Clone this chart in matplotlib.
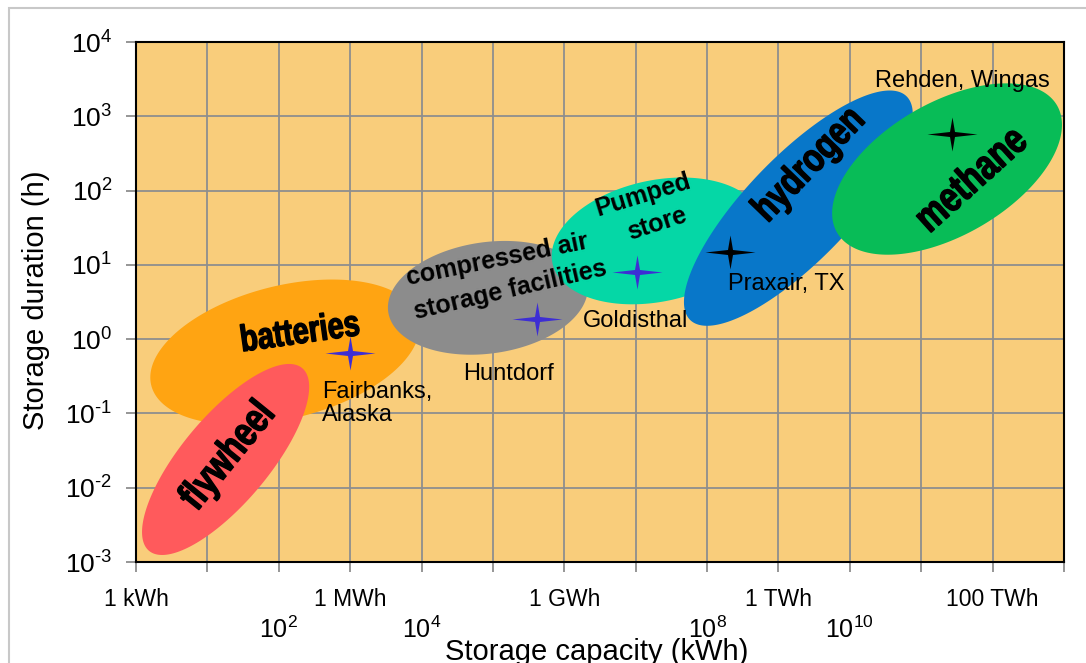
import numpy as np
import matplotlib
matplotlib.use("Agg")
import matplotlib.pyplot as plt
import matplotlib.transforms as mtransforms
from matplotlib.path import Path
from matplotlib.patches import Rectangle, PathPatch
from matplotlib.textpath import TextPath
from matplotlib.font_manager import FontProperties
from matplotlib.ticker import NullLocator

plt.rcParams['font.family'] = ['Liberation Sans', 'DejaVu Sans']
plt.rcParams['mathtext.fontset'] = 'custom'
plt.rcParams['mathtext.rm'] = 'Liberation Sans'
plt.rcParams['mathtext.default'] = 'regular'

# technology regions: centre (kWh, h), semi-axes in decades, tilt
tech_names = ["batteries", "flywheel", "compressed air", "pumped store", "hydrogen", "methane"]
tech_cx_kwh = [122, 18, 8.5e4, 2.0e7, 1.9e9, 2.3e11]
tech_cy_h = [0.67, 0.024, 3.6, 21, 58, 195]
tech_major_dec = [1.93, 1.67, 1.41, 1.50, 2.18, 1.78]
tech_minor_dec = [0.93, 0.61, 0.78, 0.85, 0.73, 0.93]
tech_angle = [14, 50, 8, 12, 46, 30]
tech_colors = ['#FFA412', '#FF5A5C', '#8C8C8C', '#05D7A6', '#0877C9', '#08BC57']

# condensed labels inside the regions
narrow_text = ["batteries", "flywheel", "hydrogen", "methane"]
narrow_x = [198, 19.4, 2.75e9, 4.8e11]
narrow_y = [1.33, 0.0259, 220, 151]
narrow_rot = [8, 51, 46, 42]
narrow_size = [37, 41, 40, 42]

# plain bold labels inside the regions
bold_text = ["compressed air", "storage facilities", "Pumped", "store"]
bold_x = [1.14e5, 1.73e5, 1.26e7, 2.0e7]
bold_y = [11.6, 4.58, 87, 35.4]
bold_rot = [11.5, 13, 17, 18]

# example plants
site_names = ["Fairbanks,\nAlaska", "Huntdorf", "Goldisthal", "Praxair, TX", "Rehden, Wingas"]
site_x_kwh = [1.0e3, 4.1e5, 1.04e7, 2.1e8, 2.7e11]
site_y_h = [0.65, 1.86, 8.0, 14.9, 575]
site_colors = ['#3D2ED4', '#3D2ED4', '#3D2ED4', 'black', 'black']
site_label_x = [403, 3.8e4, 1.82e6, 1.95e8, 2.24e10]
site_label_y = [0.273, 0.339, 1.75, 5.52, 2980]

cap_ticks = [1, 1e3, 1e6, 1e9, 1e12]
cap_tick_labels = ["1 kWh", "1 MWh", "1 GWh", "1 TWh", "100 TWh"]
pow_ticks = [1e2, 1e4, 1e8, 1e10]
pow_tick_labels = [r"$10^2$", r"$10^4$", r"$10^8$", r"$10^{10}$"]
dur_ticks = [1e-3, 1e-2, 1e-1, 1e0, 1e1, 1e2, 1e3, 1e4]
dur_tick_labels = ["$10^{\u20103}$", "$10^{\u20102}$", "$10^{\u20101}$", "$10^0$",
                   "$10^1$", "$10^2$", "$10^3$", "$10^4$"]

W, H = 1086, 663
fig = plt.figure(figsize=(W / 100, H / 100), dpi=100)
ax = fig.add_axes([136 / W, 1 - 562 / H, 928 / W, 520 / H])
ax.set_xscale('log')
ax.set_yscale('log')
ax.set_xlim(1, 1e13)
ax.set_ylim(1e-3, 1e4)
ax.set_facecolor('#F9CD7B')
ax.set_axisbelow(True)
ax.grid(True, color='#8E8E8E', lw=1.3)

# ratio of pixel size of a y decade to an x decade
ratio = (520 / 7) / (928 / 13)

t = np.linspace(0, 2 * np.pi, 200)
for cx, cy, a, b, ang, col in zip(tech_cx_kwh, tech_cy_h, tech_major_dec,
                                  tech_minor_dec, tech_angle, tech_colors):
    th = np.radians(ang)
    u = a * np.cos(t) * np.cos(th) - b * np.sin(t) * np.sin(th)
    v = (a * np.cos(t) * np.sin(th) + b * np.sin(t) * np.cos(th)) / ratio
    ax.fill(cx * 10 ** u, cy * 10 ** v, color=col, lw=0, zorder=1)

# heavy condensed text: squeeze a text path horizontally
fp_bold = FontProperties(family='Liberation Sans', weight='bold')
for txt, x, y, rot, size in zip(narrow_text, narrow_x, narrow_y, narrow_rot, narrow_size):
    tp = TextPath((0, 0), txt, size=size, prop=fp_bold)
    bb = tp.get_extents()
    tr = (mtransforms.Affine2D()
          .translate(-(bb.x0 + bb.x1) / 2, -(bb.y0 + bb.y1) / 2)
          .scale(0.78, 1).rotate_deg(rot)
          + mtransforms.ScaledTranslation(x, y, ax.transData))
    ax.add_patch(PathPatch(tp, transform=tr, fc='black', ec='black', lw=1.0, zorder=3))

for txt, x, y, rot in zip(bold_text, bold_x, bold_y, bold_rot):
    ax.text(x, y, txt, rotation=rot, rotation_mode='anchor', ha='center',
            va='center', fontsize=18, fontweight='bold', zorder=3)

# four-pointed star marker
star = Path([(1, 0), (0.1, 0.1), (0, 0.68), (-0.1, 0.1), (-1, 0),
             (-0.1, -0.1), (0, -0.68), (0.1, -0.1), (1, 0)],
            [Path.MOVETO] + [Path.LINETO] * 7 + [Path.CLOSEPOLY])
for x, y, col in zip(site_x_kwh, site_y_h, site_colors):
    ax.plot(x, y, marker=star, ms=36, color=col, mec='none', ls='none', zorder=4)

for name, x, y in zip(site_names, site_label_x, site_label_y):
    va = 'top' if '\n' in name else 'center'
    ax.text(x, y, name, ha='left', va=va, fontsize=17, linespacing=1.05, zorder=4)

ax.set_xticks(10.0 ** np.arange(0, 14))
ax.set_xticklabels([cap_tick_labels[cap_ticks.index(v)] if v in cap_ticks else ''
                    for v in 10.0 ** np.arange(0, 14)])
ax.set_yticks(dur_ticks)
ax.set_yticklabels(dur_tick_labels)
ax.xaxis.set_minor_locator(NullLocator())
ax.yaxis.set_minor_locator(NullLocator())
ax.tick_params(axis='both', direction='out', length=7, width=1.3, color='#8E8E8E')
ax.tick_params(axis='y', labelsize=19, pad=10)
ax.tick_params(axis='x', labelsize=16.5, pad=12)

for v, lab in zip(pow_ticks, pow_tick_labels):
    ax.text(v, -0.13, lab, transform=ax.get_xaxis_transform(), ha='center',
            va='center', fontsize=18)

for s in ax.spines.values():
    s.set_color('black')
    s.set_linewidth(1.5)

fig.text(597 / W, 1 - 652 / H, "Storage capacity (kWh)", ha='center', va='center', fontsize=21)
fig.text(36 / W, 1 - 300 / H, "Storage duration (h)", ha='center', va='center',
         rotation=90, fontsize=21)

fig.add_artist(Rectangle((9 / W, -0.1), 1.2, 1 - 8 / H + 0.1, transform=fig.transFigure,
                         fill=False, ec='#C8C8C8', lw=1.5))

fig.savefig("out.png", dpi=100)
